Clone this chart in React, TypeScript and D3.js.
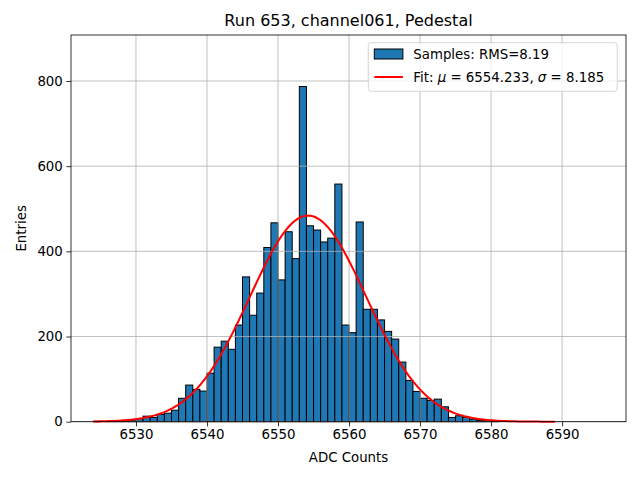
import React, { useRef, useEffect } from 'react';
import * as d3 from 'd3';

// histogram: one bin per ADC count, left edges from 6524
const binStart = 6524;
const counts = [
  1, 0, 1, 1, 2, 4, 7, 13, 10, 17, 20, 27, 55, 86, 76, 72,
  114, 175, 189, 170, 227, 340, 250, 302, 409, 467,
  333, 446, 383, 787, 460, 450, 422, 431, 558, 227,
  209, 469, 264, 264, 239, 212, 194, 140, 97, 71,
  55, 50, 53, 35, 10, 14, 10, 6, 3, 2, 1,
];
const fitMu = 6554.233;
const fitSigma = 8.185;
const fitRange = [6524, 6589];
const rms = 8.19;
const xTicks = [6530, 6540, 6550, 6560, 6570, 6580, 6590];
const yTicks = [0, 200, 400, 600, 800];
const xLimits = [6520.85, 6599.0];
const yLimits = [0, 908];

const W = 640;
const H = 480;
const FONT = 'DejaVu Sans, sans-serif';

const App: React.FC = () => {
  const svgRef = useRef<SVGSVGElement | null>(null);

  useEffect(() => {
    const svg = d3.select(svgRef.current);
    svg.selectAll('*').remove();

    const m = { left: 71, right: 14, top: 35, bottom: 58.3 };
    const x = d3.scaleLinear().domain(xLimits).range([m.left, W - m.right]);
    const y = d3.scaleLinear().domain(yLimits).range([H - m.bottom, m.top]);

    svg.append('rect').attr('width', W).attr('height', H).attr('fill', 'white');

    const bins = counts.map((c, i) => ({ x0: binStart + i, x1: binStart + i + 1, c }));

    // bars
    svg.append('g')
      .selectAll('rect')
      .data(bins.filter(b => b.c > 0))
      .enter()
      .append('rect')
      .attr('x', d => x(d.x0))
      .attr('y', d => y(d.c))
      .attr('width', d => x(d.x1) - x(d.x0))
      .attr('height', d => y(0) - y(d.c))
      .attr('fill', '#1f77b4')
      .attr('stroke', 'black')
      .attr('stroke-width', 1);

    // grid (matplotlib draws it over patches)
    const grid = svg.append('g').attr('stroke', '#b0b0b0').attr('stroke-width', 0.8);
    xTicks.forEach(t => {
      grid.append('line').attr('x1', x(t)).attr('x2', x(t)).attr('y1', y(yLimits[0])).attr('y2', y(yLimits[1]));
    });
    yTicks.forEach(t => {
      grid.append('line').attr('x1', x(xLimits[0])).attr('x2', x(xLimits[1])).attr('y1', y(t)).attr('y2', y(t));
    });

    // fit curve
    const amp = d3.sum(counts) / (fitSigma * Math.sqrt(2 * Math.PI));
    const gauss = (v: number) => amp * Math.exp(-0.5 * ((v - fitMu) / fitSigma) ** 2);
    const xs = d3.range(200).map(i => fitRange[0] + (i / 199) * (fitRange[1] - fitRange[0]));
    const line = d3.line<number>().x(v => x(v)).y(v => y(gauss(v)));
    svg.append('path')
      .datum(xs)
      .attr('d', line)
      .attr('fill', 'none')
      .attr('stroke', 'red')
      .attr('stroke-width', 2);

    // axes
    const xAxis = d3.axisBottom(x).tickValues(xTicks).tickSize(4.67).tickPadding(3.5).tickFormat(d3.format('d'));
    const yAxis = d3.axisLeft(y).tickValues(yTicks).tickSize(4.67).tickPadding(3.5).tickFormat(d3.format('d'));
    const gx = svg.append('g').attr('transform', `translate(0,${y(0)})`).call(xAxis);
    const gy = svg.append('g').attr('transform', `translate(${m.left},0)`).call(yAxis);
    [gx, gy].forEach(g => {
      g.select('.domain').remove();
      g.selectAll('line').attr('stroke', 'black').attr('stroke-width', 0.8);
      g.selectAll('text').attr('font-family', FONT).attr('font-size', 13.33).attr('fill', 'black');
    });

    // spines
    svg.append('rect')
      .attr('x', x(xLimits[0]))
      .attr('y', y(yLimits[1]))
      .attr('width', x(xLimits[1]) - x(xLimits[0]))
      .attr('height', y(yLimits[0]) - y(yLimits[1]))
      .attr('fill', 'none')
      .attr('stroke', 'black')
      .attr('stroke-width', 0.8);

    // title and labels
    svg.append('text')
      .attr('x', (x(xLimits[0]) + x(xLimits[1])) / 2)
      .attr('y', 26)
      .attr('text-anchor', 'middle')
      .attr('font-family', FONT)
      .attr('font-size', 16)
      .text('Run 653, channel061, Pedestal');
    svg.append('text')
      .attr('x', (x(xLimits[0]) + x(xLimits[1])) / 2)
      .attr('y', 462)
      .attr('text-anchor', 'middle')
      .attr('font-family', FONT)
      .attr('font-size', 13.33)
      .text('ADC Counts');
    svg.append('text')
      .attr('transform', `translate(26,${(y(yLimits[0]) + y(yLimits[1])) / 2}) rotate(-90)`)
      .attr('text-anchor', 'middle')
      .attr('font-family', FONT)
      .attr('font-size', 13.33)
      .text('Entries');

    // legend
    const lg = svg.append('g').attr('transform', 'translate(368.3,42.7)');
    lg.append('rect')
      .attr('width', 249)
      .attr('height', 48.6)
      .attr('rx', 3)
      .attr('fill', 'white')
      .attr('fill-opacity', 0.8)
      .attr('stroke', '#cccccc')
      .attr('stroke-width', 0.8);
    lg.append('rect')
      .attr('x', 6)
      .attr('y', 6.3)
      .attr('width', 28.6)
      .attr('height', 10)
      .attr('fill', '#1f77b4')
      .attr('stroke', 'black')
      .attr('stroke-width', 1);
    lg.append('text')
      .attr('x', 45)
      .attr('y', 16)
      .attr('font-family', FONT)
      .attr('font-size', 13.33)
      .text(`Samples: RMS=${rms.toFixed(2)}`);
    lg.append('line')
      .attr('x1', 6)
      .attr('x2', 34.6)
      .attr('y1', 34.3)
      .attr('y2', 34.3)
      .attr('stroke', 'red')
      .attr('stroke-width', 2);
    const ft = lg.append('text')
      .attr('x', 45)
      .attr('y', 39.6)
      .attr('font-family', FONT)
      .attr('font-size', 13.33);
    ft.append('tspan').text('Fit: ');
    ft.append('tspan').attr('font-style', 'italic').text('μ');
    ft.append('tspan').text(` = ${fitMu.toFixed(3)}, `);
    ft.append('tspan').attr('font-style', 'italic').text('σ');
    ft.append('tspan').text(` = ${fitSigma.toFixed(3)}`);
  }, []);

  return (
    <svg
      ref={svgRef}
      width={W}
      height={H}
      style={{ position: 'absolute', left: 0, top: 0 }}
    ></svg>
  );
};

export default App;
